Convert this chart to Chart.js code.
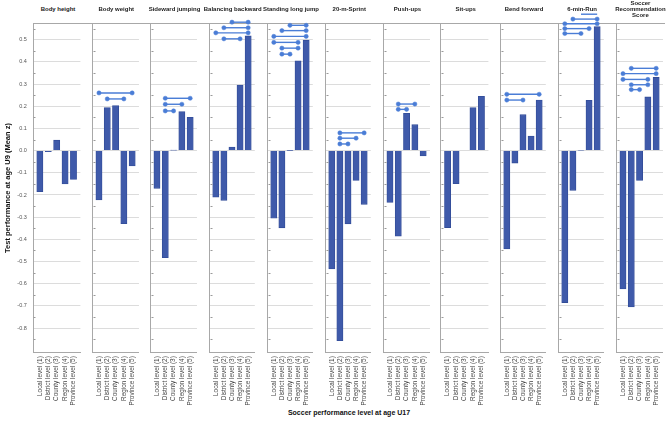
<!DOCTYPE html>
<html>
<head>
<meta charset="utf-8">
<script src="https://cdn.jsdelivr.net/npm/chart.js@4.4.1/dist/chart.umd.min.js"></script>
<style>
  body { margin: 0; background: #fff; }
  #wrap { position: relative; width: 669px; height: 425px; overflow: hidden; font-family: "Liberation Sans", Arial, sans-serif; }
  #wrap canvas { position: absolute; top: 0; }
  .ptitle { position: absolute; top: 0; height: 18px; width: 70px; display: flex; align-items: center; justify-content: center;
            text-align: center; white-space: pre; font-weight: bold; font-size: 6px; line-height: 6.2px; color: #222; }
  #topline { position: absolute; left: 33px; top: 23px; width: 632px; height: 1px; background: #a8a8a8; }
  #xtitle { position: absolute; left: 249px; width: 200px; top: 409px; text-align: center; font-weight: bold; font-size: 7px; color: #111; }
</style>
</head>
<body>
<div id="wrap">
  <div id="topline"></div>
  <div id="xtitle">Soccer performance level at age U17</div>
</div>
<script>
// --- DATA ---
const levels = ['Local level (1)', 'District level (2)', 'County level (3)', 'Region level (4)', 'Province level (5)'];
const tests = ['Body height', 'Body weight', 'Sideward jumping', 'Balancing backward', 'Standing long jump',
  '20-m-Sprint', 'Push-ups', 'Sit-ups', 'Bend forward', '6-min-Run', 'Soccer\nRecommendation\nScore'];

// mean z per level (1..5)
const bodyHeight = [-0.185, -0.005, 0.047, -0.150, -0.130];
const bodyWeight = [-0.222, 0.194, 0.203, -0.329, -0.069];
const sidewardJumping = [-0.170, -0.483, 0.003, 0.176, 0.150];
const balancingBackward = [-0.210, -0.224, 0.016, 0.296, 0.517];
const standingLongJump = [-0.305, -0.348, 0.001, 0.405, 0.498];
const sprint20m = [-0.533, -0.857, -0.330, -0.134, -0.242];
const pushUps = [-0.234, -0.386, 0.168, 0.117, -0.024];
const sitUps = [-0.347, -0.149, 0.000, 0.194, 0.245];
const bendForward = [-0.443, -0.056, 0.162, 0.066, 0.228];
const sixMinRun = [-0.685, -0.179, 0.002, 0.227, 0.559];
const recommendation = [-0.624, -0.705, -0.134, 0.242, 0.330];

// significant pairs: [from level index, to level index, bracket height]
const bodyHeightPairs = [];
const bodyWeightPairs = [[0, 4, 0.260], [1, 3, 0.233]];
const sidewardPairs = [[1, 4, 0.236], [1, 3, 0.209], [1, 2, 0.179]];
const balancingPairs = [[2, 4, 0.579], [1, 4, 0.554], [0, 4, 0.531], [1, 3, 0.504]];
const longJumpPairs = [[2, 4, 0.565], [1, 4, 0.541], [0, 4, 0.515], [0, 3, 0.488], [1, 3, 0.462], [1, 2, 0.435]];
const sprintPairs = [[1, 4, 0.080], [1, 3, 0.056], [1, 2, 0.030]];
const pushUpPairs = [[1, 3, 0.210], [1, 2, 0.186]];
const sitUpPairs = [];
const bendPairs = [[0, 4, 0.254], [0, 2, 0.228]];
const runPairs = [[2, 4, 0.615], [1, 4, 0.593], [0, 4, 0.572], [0, 3, 0.550], [0, 2, 0.528]];
const recommendationPairs = [[1, 4, 0.371], [0, 4, 0.347], [0, 3, 0.321], [1, 3, 0.297], [1, 2, 0.275]];

const yMin = -0.911, yMax = 0.574;

const series = [bodyHeight, bodyWeight, sidewardJumping, balancingBackward, standingLongJump,
  sprint20m, pushUps, sitUps, bendForward, sixMinRun, recommendation];
const pairs = [bodyHeightPairs, bodyWeightPairs, sidewardPairs, balancingPairs, longJumpPairs,
  sprintPairs, pushUpPairs, sitUpPairs, bendPairs, runPairs, recommendationPairs];

// --- LAYOUT ---
const firstLeft = 33.3, panelStep = 58.24, plotWidth = 49.5;
const isMajor = v => Math.abs(v * 10 - Math.round(v * 10)) < 1e-6;

// small inner ticks on each panel's left axis, halfway between gridlines
const minorTicks = {
  id: 'minorTicks',
  afterDraw(chart) {
    const y = chart.scales.y, ctx = chart.ctx, x0 = Math.round(chart.chartArea.left) + 0.5;
    ctx.save();
    ctx.strokeStyle = '#9a9a9a';
    ctx.lineWidth = 1;
    for (let k = -17; k <= 11; k += 2) {
      const py = Math.round(y.getPixelForValue(k * 0.05)) + 0.5;
      ctx.beginPath(); ctx.moveTo(x0, py); ctx.lineTo(x0 + 2, py); ctx.stroke();
    }
    ctx.restore();
  }
};

const wrap = document.getElementById('wrap');

series.forEach((values, p) => {
  const plotLeft = firstLeft + p * panelStep;
  const first = p === 0;
  const canvasLeft = first ? 0 : Math.floor(plotLeft) - 3;
  const padLeft = first ? 0 : plotLeft - canvasLeft;
  const canvasWidth = Math.ceil(plotLeft + plotWidth) + 2 - canvasLeft;
  const padRight = canvasWidth - (plotLeft - canvasLeft) - plotWidth;

  // panel title
  const t = document.createElement('div');
  t.className = 'ptitle';
  t.textContent = tests[p];
  t.style.left = (plotLeft + plotWidth / 2 - 35) + 'px';
  wrap.appendChild(t);

  const cv = document.createElement('canvas');
  cv.width = canvasWidth;
  cv.height = 425;
  cv.style.left = canvasLeft + 'px';
  wrap.appendChild(cv);

  const datasets = [{
    type: 'bar',
    data: values.map((v, i) => ({ x: i, y: v })),
    backgroundColor: '#3f5aaa',
    borderColor: '#324c98',
    borderWidth: 0.8,
    barThickness: 6.2,
    order: 2
  }];
  pairs[p].forEach(([a, b, h]) => {
    datasets.push({
      type: 'line',
      data: [{ x: a, y: h }, { x: b, y: h }],
      borderColor: '#4a7dd6',
      backgroundColor: '#4a7dd6',
      borderWidth: 1.4,
      pointRadius: 2.1,
      pointBorderWidth: 0.5,
      clip: false,
      order: 1
    });
  });

  new Chart(cv, {
    type: 'bar',
    data: { datasets },
    options: {
      responsive: false,
      animation: false,
      devicePixelRatio: 1,
      layout: { padding: { top: 23.3, left: padLeft, right: padRight, bottom: 0 } },
      plugins: { legend: { display: false }, tooltip: { enabled: false } },
      scales: {
        x: {
          type: 'linear',
          min: -0.78,
          max: 4.82,
          offset: false,
          grid: { display: false, drawTicks: false },
          border: { display: true, color: '#a8a8a8' },
          afterBuildTicks: s => { s.ticks = levels.map((_, i) => ({ value: i })); },
          afterFit: s => { s.height = 72.3; },
          ticks: {
            autoSkip: false,
            maxRotation: 90,
            minRotation: 90,
            padding: 3.5,
            color: '#444',
            font: { family: '"Liberation Sans", Arial, sans-serif', size: 6.4 },
            callback: v => levels[v]
          }
        },
        y: {
          min: yMin,
          max: yMax,
          grid: {
            drawTicks: false,
            color: ctx => isMajor(ctx.tick.value) ? '#dcdcdc' : 'rgba(0,0,0,0)'
          },
          border: { display: true, color: '#a8a8a8' },
          afterFit: s => { s.width = first ? plotLeft : 0; },
          title: {
            display: first,
            text: 'Test performance at age U9 (Mean z)',
            color: '#111',
            padding: { top: 3, bottom: 0 },
            font: { family: '"Liberation Sans", Arial, sans-serif', size: 7.5, weight: 'bold' }
          },
          ticks: {
            display: first,
            stepSize: 0.1,
            padding: 6.5,
            color: '#555',
            font: { family: '"Liberation Sans", Arial, sans-serif', size: 5.5 },
            callback: v => isMajor(v) ? v.toFixed(1) : ''
          }
        }
      }
    },
    plugins: [minorTicks]
  });
});
</script>
</body>
</html>
